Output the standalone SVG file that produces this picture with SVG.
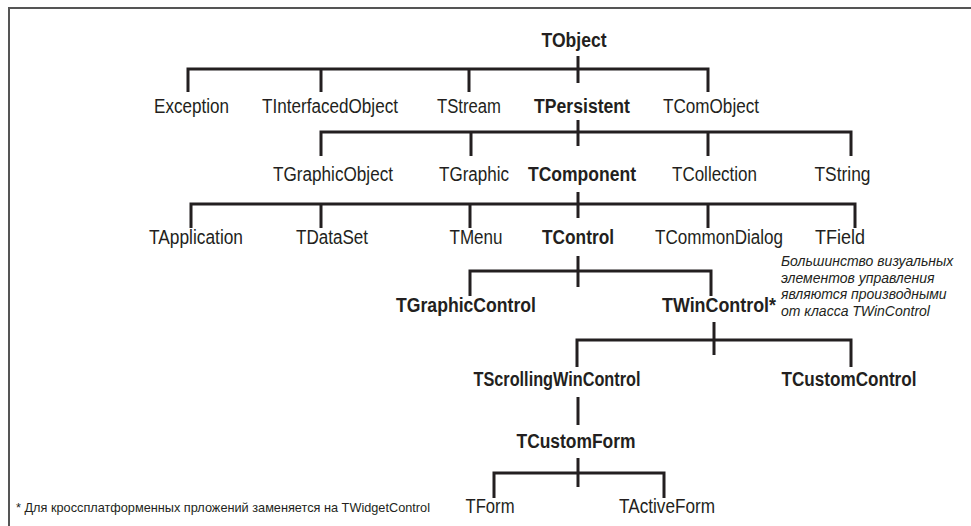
<svg xmlns="http://www.w3.org/2000/svg" width="971" height="526" viewBox="0 0 971 526">
<style>
text{font-family:"Liberation Sans",Arial,sans-serif;fill:#231f20}
.r{font-size:20px;text-anchor:middle}
.b{font-size:20px;font-weight:bold;text-anchor:middle}
.n{font-size:14px;font-style:italic}
.f{font-size:13px}
.c line{stroke:#231f20;stroke-width:3;stroke-linecap:butt}
.c polyline{stroke:#231f20;stroke-width:3;fill:none;stroke-linejoin:miter}
</style>
<rect width="971" height="526" fill="#fff"/>
<path d="M9 526V8H971" fill="none" stroke="#555" stroke-width="2"/>
<g id="connectors" class="c">
<line x1="578" y1="56" x2="578" y2="83"/>
<polyline points="188,92 188,69 708,69 708,92"/>
<line x1="321" y1="69" x2="321" y2="92"/>
<line x1="469" y1="69" x2="469" y2="92"/>
<line x1="578" y1="120" x2="578" y2="146"/>
<polyline points="321,156 321,132 851,132 851,156"/>
<line x1="471" y1="132" x2="471" y2="156"/>
<line x1="708" y1="132" x2="708" y2="156"/>
<line x1="578" y1="192" x2="578" y2="218"/>
<polyline points="191,228 191,204 855,204 855,228"/>
<line x1="321" y1="204" x2="321" y2="228"/>
<line x1="470" y1="204" x2="470" y2="228"/>
<line x1="708" y1="204" x2="708" y2="228"/>
<line x1="578" y1="256" x2="578" y2="287"/>
<polyline points="470,296 470,271 711,271 711,296"/>
<line x1="714" y1="322" x2="714" y2="355"/>
<polyline points="577,367 577,340 851,340 851,367"/>
<line x1="578" y1="397" x2="578" y2="425"/>
<line x1="578" y1="458" x2="578" y2="487"/>
<polyline points="494,498 494,473 664,473 664,498"/>
</g>
<g id="TObject"><text class="b" x="574" y="47" textLength="65" lengthAdjust="spacingAndGlyphs">TObject</text></g>
<g id="Exception"><text class="r" x="191.5" y="113" textLength="75" lengthAdjust="spacingAndGlyphs">Exception</text></g>
<g id="TInterfacedObject"><text class="r" x="330" y="113" textLength="136" lengthAdjust="spacingAndGlyphs">TInterfacedObject</text></g>
<g id="TStream"><text class="r" x="469" y="113" textLength="64" lengthAdjust="spacingAndGlyphs">TStream</text></g>
<g id="TPersistent"><text class="b" x="582" y="113" textLength="96" lengthAdjust="spacingAndGlyphs">TPersistent</text></g>
<g id="TComObject"><text class="r" x="711" y="113" textLength="96" lengthAdjust="spacingAndGlyphs">TComObject</text></g>
<g id="TGraphicObject"><text class="r" x="333" y="181" textLength="120" lengthAdjust="spacingAndGlyphs">TGraphicObject</text></g>
<g id="TGraphic"><text class="r" x="474" y="181" textLength="70" lengthAdjust="spacingAndGlyphs">TGraphic</text></g>
<g id="TComponent"><text class="b" x="582" y="181" textLength="108" lengthAdjust="spacingAndGlyphs">TComponent</text></g>
<g id="TCollection"><text class="r" x="714.5" y="181" textLength="85" lengthAdjust="spacingAndGlyphs">TCollection</text></g>
<g id="TString"><text class="r" x="842.5" y="181" textLength="56" lengthAdjust="spacingAndGlyphs">TString</text></g>
<g id="TApplication"><text class="r" x="196" y="244" textLength="94" lengthAdjust="spacingAndGlyphs">TApplication</text></g>
<g id="TDataSet"><text class="r" x="332" y="244" textLength="72" lengthAdjust="spacingAndGlyphs">TDataSet</text></g>
<g id="TMenu"><text class="r" x="476" y="244" textLength="53" lengthAdjust="spacingAndGlyphs">TMenu</text></g>
<g id="TControl"><text class="b" x="578" y="244" textLength="72" lengthAdjust="spacingAndGlyphs">TControl</text></g>
<g id="TCommonDialog"><text class="r" x="719" y="244" textLength="128" lengthAdjust="spacingAndGlyphs">TCommonDialog</text></g>
<g id="TField"><text class="r" x="840" y="244" textLength="50" lengthAdjust="spacingAndGlyphs">TField</text></g>
<g id="TGraphicControl"><text class="b" x="466" y="312" textLength="140" lengthAdjust="spacingAndGlyphs">TGraphicControl</text></g>
<g id="TWinControl"><text class="b" x="719" y="312" textLength="114" lengthAdjust="spacingAndGlyphs">TWinControl*</text></g>
<g id="note">
<text class="n" x="781" y="266">Большинство визуальных</text>
<text class="n" x="781" y="282.5">элементов управления</text>
<text class="n" x="781" y="299">являются производными</text>
<text class="n" x="781" y="315.5">от класса TWinControl</text>
</g>
<g id="TScrollingWinControl"><text class="b" x="557" y="386" textLength="167" lengthAdjust="spacingAndGlyphs">TScrollingWinControl</text></g>
<g id="TCustomControl"><text class="b" x="849" y="386" textLength="135" lengthAdjust="spacingAndGlyphs">TCustomControl</text></g>
<g id="TCustomForm"><text class="b" x="576" y="448" textLength="119" lengthAdjust="spacingAndGlyphs">TCustomForm</text></g>
<g id="TForm"><text class="r" x="490" y="513" textLength="49" lengthAdjust="spacingAndGlyphs">TForm</text></g>
<g id="TActiveForm"><text class="r" x="667" y="513" textLength="96" lengthAdjust="spacingAndGlyphs">TActiveForm</text></g>
<g id="footnote"><text class="f" x="16" y="512" textLength="414" lengthAdjust="spacingAndGlyphs">* Для кроссплатформенных прложений заменяется на TWidgetControl</text></g>
</svg>
